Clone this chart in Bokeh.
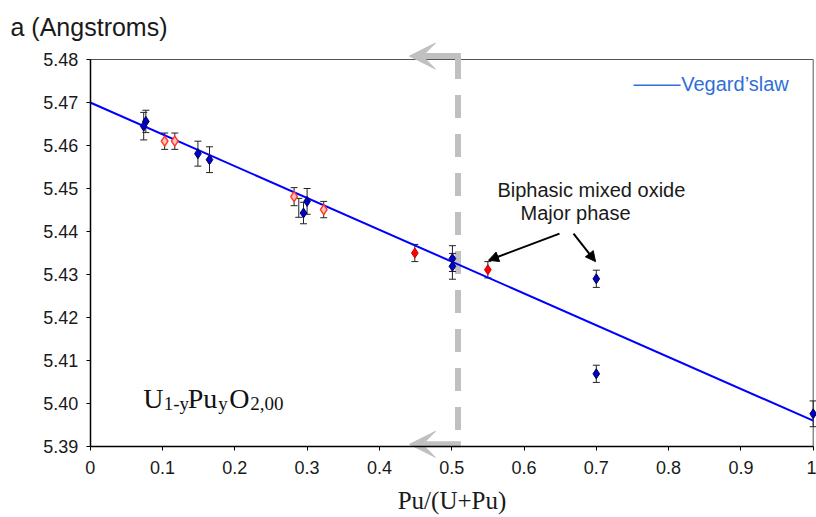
from bokeh.plotting import figure
from bokeh.models import (ColumnDataSource, Whisker, TeeHead, Arrow, VeeHead,
                          NormalHead, Label, Range1d, FixedTicker)
from bokeh.embed import file_html
from bokeh.resources import INLINE

# ---------------- data ----------------
# U(1-y)Pu(y)O2 lattice parameter vs Pu/(U+Pu)
BLUE_X = [0.077, 0.074, 0.149, 0.165, 0.295, 0.300, 0.501, 0.501, 0.700, 0.700, 1.000]
BLUE_Y = [5.4656, 5.4645, 5.4581, 5.4567, 5.4443, 5.4470, 5.4337, 5.4319, 5.4290, 5.4069, 5.3976]
BLUE_ERR = [0.0026, 0.0032, 0.0029, 0.0030, 0.0025, 0.0030, 0.0030, 0.0030, 0.0020, 0.0020, 0.0030]

RED_X = [0.449, 0.550]
RED_Y = [5.4350, 5.4311]
RED_ERR = [0.0020, 0.0019]

OPEN_X = [0.103, 0.117, 0.282, 0.323]
OPEN_Y = [5.4610, 5.4610, 5.4481, 5.4451]
OPEN_ERR = [0.0019, 0.0019, 0.0021, 0.0019]

HIDDEN_X = [0.2885]
HIDDEN_Y = [5.4455]
HIDDEN_ERR = [0.0022]

VEGARD_X = [0.0, 1.0]
VEGARD_Y = [5.4700, 5.3960]

X_TICKS = [0.0, 0.1, 0.2, 0.3, 0.4, 0.5, 0.6, 0.7, 0.8, 0.9, 1.0]
X_TICK_LABELS = ["0", "0.1", "0.2", "0.3", "0.4", "0.5", "0.6", "0.7", "0.8", "0.9", "1"]
Y_TICKS = [5.39, 5.40, 5.41, 5.42, 5.43, 5.44, 5.45, 5.46, 5.47, 5.48]
Y_TICK_LABELS = ["5.39", "5.40", "5.41", "5.42", "5.43", "5.44", "5.45", "5.46", "5.47", "5.48"]

# axis extents (the plotted box) and the view window around it
X_MIN, X_MAX = 0.0, 1.0
Y_MIN, Y_MAX = 5.39, 5.48
VIEW_X = (-0.124066, 1.004564)
VIEW_Y = (5.373488, 5.493721)

# ---------------- figure ----------------
p = figure(width=816, height=517, output_backend="svg", toolbar_location=None,
           x_range=Range1d(*VIEW_X), y_range=Range1d(*VIEW_Y), min_border=0)
p.background_fill_color = "white"
p.border_fill_color = "white"
p.outline_line_color = None
p.xgrid.visible = False
p.ygrid.visible = False

SANS = "Liberation Sans"
SERIF = "Liberation Serif"
TXT = "#1a1a1a"

for ax in (p.xaxis[0], p.yaxis[0]):
    ax.axis_line_color = "black"
    ax.axis_line_width = 1.5
    ax.major_tick_line_color = "black"
    ax.major_tick_out = 4
    ax.major_tick_in = 0
    ax.minor_tick_line_color = None
    ax.major_label_text_font = SANS
    ax.major_label_text_font_size = "18px"
    ax.major_label_text_color = TXT

p.xaxis.fixed_location = Y_MIN
p.xaxis.bounds = (X_MIN, X_MAX)
p.yaxis.fixed_location = X_MIN
p.yaxis.bounds = (Y_MIN, Y_MAX)

p.xaxis.ticker = FixedTicker(ticks=X_TICKS)
p.xaxis.major_label_overrides = {t: l for t, l in zip(X_TICKS, X_TICK_LABELS)}
p.yaxis.ticker = FixedTicker(ticks=Y_TICKS)
p.yaxis.major_label_overrides = {t: l for t, l in zip(Y_TICKS, Y_TICK_LABELS)}
p.xaxis.major_label_standoff = 11
p.yaxis.major_label_standoff = 8

p.xaxis.axis_label = "Pu/(U+Pu)"
p.xaxis.axis_label_text_font = SERIF
p.xaxis.axis_label_text_font_style = "normal"
p.xaxis.axis_label_text_font_size = "25px"
p.xaxis.axis_label_text_color = TXT
p.xaxis.axis_label_standoff = 9

# top and right border of the plot box
p.line(x=[X_MIN, X_MAX, X_MAX], y=[Y_MAX, Y_MAX, Y_MIN], line_color="#555555",
       line_width=1, level="underlay")

# ---------------- gray dashed separator with arrows ----------------
GRAY = "#c0c0c0"
SEP_X = 0.5087
ARROW_TIP_X = 0.4416
SEP_TOP = 5.4808
SEP_BOTTOM = 5.3905
p.line(x=[SEP_X, SEP_X], y=[SEP_TOP, SEP_BOTTOM], line_color=GRAY, line_width=6,
       line_dash="23 16", line_cap="butt", level="underlay")
for yy in (SEP_TOP, SEP_BOTTOM):
    p.add_layout(Arrow(x_start=SEP_X + 0.004, y_start=yy, x_end=ARROW_TIP_X, y_end=yy,
                       line_color=GRAY, line_width=6,
                       end=VeeHead(size=26, fill_color=GRAY, line_color=GRAY, line_width=1),
                       level="underlay"))

# ---------------- error bars ----------------
def whiskers(xs, ys, errs):
    src = ColumnDataSource(dict(base=xs,
                                lower=[y - e for y, e in zip(ys, errs)],
                                upper=[y + e for y, e in zip(ys, errs)]))
    w = Whisker(base="base", lower="lower", upper="upper", source=src,
                line_color="#222222", line_width=1, level="underlay",
                upper_head=TeeHead(size=7, line_color="#222222", line_width=1),
                lower_head=TeeHead(size=7, line_color="#222222", line_width=1))
    p.add_layout(w)

whiskers(HIDDEN_X, HIDDEN_Y, HIDDEN_ERR)
whiskers(BLUE_X, BLUE_Y, BLUE_ERR)
whiskers(RED_X, RED_Y, RED_ERR)
whiskers(OPEN_X, OPEN_Y, OPEN_ERR)

# ---------------- Vegard line ----------------
p.line(x=VEGARD_X, y=VEGARD_Y, line_color="#0000ff", line_width=2)

# ---------------- points ----------------
p.scatter(x=OPEN_X, y=OPEN_Y, marker="diamond", size=10, fill_color="#ffc4b4",
          line_color="#ff3a2a", line_width=1.5)
p.scatter(x=BLUE_X, y=BLUE_Y, marker="diamond", size=10, fill_color="#0000c8",
          line_color="#00005a", line_width=1)
p.scatter(x=RED_X, y=RED_Y, marker="diamond", size=10, fill_color="#ff0000",
          line_color="#d00000", line_width=1)

# ---------------- texts ----------------
p.add_layout(Label(x=-0.1102, y=5.4876, text="a (Angstroms)", text_font=SANS,
                   text_font_size="25px", text_color=TXT, text_baseline="alphabetic"))

p.add_layout(Label(x=0.5633, y=5.4497, text="Biphasic mixed oxide", text_font=SANS,
                   text_font_size="20px", text_color=TXT, text_baseline="alphabetic"))
p.add_layout(Label(x=0.5952, y=5.4442, text="Major phase", text_font=SANS,
                   text_font_size="20px", text_color=TXT, text_baseline="alphabetic"))

for xs, ys, xe, ye in [(0.6491, 5.4395, 0.5509, 5.4333), (0.6685, 5.4395, 0.6989, 5.4330)]:
    p.add_layout(Arrow(x_start=xs, y_start=ys, x_end=xe, y_end=ye, line_color="black",
                       line_width=2,
                       end=NormalHead(size=10, fill_color="black", line_color="black")))

# legend-like annotation
LEG_BLUE = "#2f6fd8"
p.segment(x0=[0.7516], y0=[5.4740], x1=[0.8166], y1=[5.4740], line_color=LEG_BLUE,
          line_width=1.5)
p.add_layout(Label(x=0.8175, y=5.4744, text="Vegard\u2019slaw", text_font=SANS,
                   text_font_size="20px", text_color=LEG_BLUE, text_baseline="alphabetic"))

# formula U1-yPuyO2,00
FORMULA_PARTS = ["U", "1-y", "Pu", "y", "O", "2,00"]
FORMULA_SUB = [False, True, False, True, False, True]
FORMULA_DX = [0, 20.5, 44.5, 75, 86, 107]
for txt, sub, dx in zip(FORMULA_PARTS, FORMULA_SUB, FORMULA_DX):
    p.add_layout(Label(x=0.0733, y=5.4011, x_offset=dx, y_offset=-5 if sub else 0,
                       text=txt, text_font=SERIF,
                       text_font_size="19px" if sub else "28px",
                       text_color="#111111", text_baseline="alphabetic"))

open("out.html", "w").write(file_html(p, INLINE))
